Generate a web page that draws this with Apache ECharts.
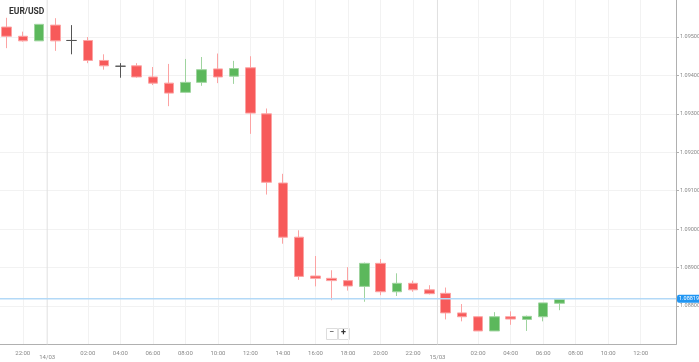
<!DOCTYPE html>
<html>
<head>
<meta charset="utf-8">
<script src="https://cdn.jsdelivr.net/npm/echarts@6/dist/echarts.min.js"></script>
<style>
html,body{margin:0;padding:0;background:#fff;}
#chart{width:699px;height:362px;}
</style>
</head>
<body>
<div id="chart"></div>
<script>
// Hours relative to 14/03 00:00 (negative = 13/03)
const hours  = [-3,-2,-1,0,1,2,3,4,5,6,7,8,9,10,11,12,13,14,15,16,17,18,19,20,21,22,23,24,25,26,27,28,29,30,31];
const opens  = [1.09526,1.09502,1.09490,1.09531,1.09491,1.09491,1.09439,1.09424,1.09425,1.09396,1.09380,1.09356,1.09382,1.09417,1.09398,1.09420,1.09300,1.09120,1.08979,1.08878,1.08872,1.08866,1.08851,1.08911,1.08837,1.08859,1.08842,1.08833,1.08782,1.08772,1.08735,1.08772,1.08765,1.08772,1.08807];
const closes = [1.09502,1.09490,1.09533,1.09490,1.09491,1.09439,1.09425,1.09424,1.09396,1.09380,1.09354,1.09382,1.09415,1.09396,1.09418,1.09302,1.09122,1.08979,1.08877,1.08872,1.08866,1.08852,1.08911,1.08837,1.08859,1.08842,1.08832,1.08782,1.08772,1.08735,1.08772,1.08766,1.08773,1.08808,1.08817];
const lows   = [1.09471,1.09488,1.09490,1.09464,1.09455,1.09432,1.09415,1.09394,1.09394,1.09375,1.09320,1.09356,1.09373,1.09380,1.09378,1.09248,1.09090,1.08962,1.08868,1.08851,1.08815,1.08840,1.08811,1.08828,1.08826,1.08837,1.08830,1.08765,1.08760,1.08735,1.08735,1.08751,1.08735,1.08760,1.08789];
const highs  = [1.09550,1.09514,1.09533,1.09549,1.09531,1.09500,1.09455,1.09432,1.09432,1.09422,1.09430,1.09443,1.09448,1.09457,1.09438,1.09450,1.09314,1.09144,1.08997,1.08930,1.08893,1.08901,1.08913,1.08922,1.08885,1.08866,1.08854,1.08848,1.08805,1.08772,1.08784,1.08786,1.08775,1.08808,1.08820];

// X tick positions (hours) and date separators
const timeTicks = [-2,2,4,6,8,10,12,14,16,18,20,22,26,28,30,32,34,36];
const dateTicks = [-0.5, 23.5];
const dateLabels = ['14/03', '15/03'];
const currentPrice = 1.08819;
const titleText = 'EUR/USD';

const X_MIN = -3.4, X_MAX = 38.17, Y_MIN = 1.087, Y_MAX = 1.096;
const allTicks = timeTicks.concat(dateTicks).sort((a,b)=>a-b);

const data = hours.map((h,i) => {
  const item = {value:[h, opens[i], closes[i], lows[i], highs[i]]};
  if (opens[i] === closes[i]) {
    item.itemStyle = {color:'#555', color0:'#555', borderColor:'#555', borderColor0:'#555', borderColorDoji:'#555'};
  }
  return item;
});

const dateSeries = dateTicks.map(v => ({
  type:'line', silent:true, symbol:'none', z:1,
  data:[[v, Y_MIN], [v, Y_MAX]],
  lineStyle:{color:'#e0e0e0', width:1}
}));

const chart = echarts.init(document.getElementById('chart'), null, {renderer:'canvas'});
chart.setOption({
  animation:false,
  backgroundColor:'#fff',
  textStyle:{fontFamily:'Roboto'},
  title:{text:titleText, left:9, top:7, padding:0,
    textStyle:{fontSize:8.5, fontWeight:'bold', color:'#333', fontFamily:'Roboto'}},
  grid:{left:0, right:23, top:-1.4, bottom:17.6, containLabel:false, outerBoundsMode:'none'},
  xAxis:{
    type:'value', min:X_MIN, max:X_MAX,
    axisLine:{show:true, onZero:false, lineStyle:{color:'#b0b0b0', width:1}},
    axisTick:{show:false, customValues:timeTicks},
    axisLabel:{customValues:allTicks, fontSize:6, color:'#888', margin:6,
      formatter:function(v){
        const di = dateTicks.indexOf(v);
        if (di >= 0) return '{d|' + dateLabels[di] + '}';
        const h = ((v % 24) + 24) % 24;
        return (h < 10 ? '0' : '') + h + ':00';
      },
      rich:{d:{fontSize:6, color:'#888', padding:[4,0,0,0]}}
    },
    splitLine:{show:true, lineStyle:{color:'#f2f2f2', width:1}}
  },
  yAxis:{
    type:'value', position:'right', min:Y_MIN, max:Y_MAX, interval:0.001,
    axisLine:{show:true, onZero:false, lineStyle:{color:'#b0b0b0', width:1}},
    axisTick:{show:true, length:3, lineStyle:{color:'#b0b0b0'}},
    axisLabel:{fontSize:5.5, color:'#888', margin:4, showMinLabel:false, showMaxLabel:false,
      formatter:function(v){return v.toFixed(5);}},
    splitLine:{show:true, lineStyle:{color:'#f2f2f2', width:1}}
  },
  series:dateSeries.concat([
    {
      type:'line', silent:true, symbol:'none', z:3,
      data:[[X_MIN, currentPrice], [X_MAX, currentPrice]],
      lineStyle:{color:'#b3d9f7', width:1.5},
      endLabel:{show:true, distance:1, formatter:currentPrice.toFixed(5),
        backgroundColor:'#2196f3', color:'#fff', fontSize:5.5, padding:[1,2,1,2], borderRadius:2}
    },
    {
      type:'candlestick', z:2,
      data:data,
      encode:{x:0, y:[1,2,3,4]},
      barWidth:10,
      itemStyle:{
        color:'#5cb85c', color0:'#f75a5a',
        borderColor:'#9fd49f', borderColor0:'#fca3a3',
        borderColorDoji:'#555', borderWidth:1
      }
    }
  ]),
  graphic:[
    {type:'rect', left:326, top:328, shape:{width:11, height:11},
      style:{fill:'#fff', stroke:'#ddd', lineWidth:1}},
    {type:'rect', left:338, top:328, shape:{width:11, height:11},
      style:{fill:'#fff', stroke:'#ddd', lineWidth:1}},
    {type:'text', left:329, top:328, style:{text:'\u2212', fontSize:9, fill:'#333', fontFamily:'Roboto'}},
    {type:'text', left:341, top:328, style:{text:'+', fontSize:9, fill:'#333', fontFamily:'Roboto', fontWeight:'bold'}}
  ]
});
</script>
</body>
</html>
